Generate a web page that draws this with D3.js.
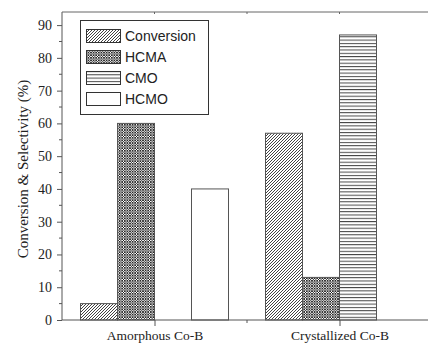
<!DOCTYPE html>
<html>
<head>
<meta charset="utf-8">
<script src="https://cdn.jsdelivr.net/npm/d3@7"></script>
<style>
  body { margin: 0; background: #fff; }
  svg { display: block; }
</style>
</head>
<body>
<div class="chart"></div>
<script>
var svgWidth = 428;
var svgHeight = 344;

// data
var categories = ["Amorphous Co-B", "Crystallized Co-B"];
var seriesNames = ["Conversion", "HCMA", "CMO", "HCMO"];
var conversion = [5, 57];
var hcma = [60, 13];
var cmo = [0, 87];
var hcmo = [40, 0];
var yTicks = [0, 10, 20, 30, 40, 50, 60, 70, 80, 90];

var seriesValues = [conversion, hcma, cmo, hcmo];

var svg = d3.select(".chart")
  .append("svg")
  .attr("width", svgWidth)
  .attr("height", svgHeight);

var defs = svg.append("defs");

// diagonal hatch
var p1 = defs.append("pattern")
  .attr("id", "diag")
  .attr("patternUnits", "userSpaceOnUse")
  .attr("width", 3).attr("height", 3);
p1.append("rect").attr("width", 3).attr("height", 3).attr("fill", "#fff");
p1.append("path")
  .attr("d", "M-1,1 l2,-2 M0,3 l3,-3 M2,4 l2,-2")
  .attr("stroke", "#111").attr("stroke-width", 0.8);

// cross hatch
var p2 = defs.append("pattern")
  .attr("id", "cross")
  .attr("patternUnits", "userSpaceOnUse")
  .attr("width", 2.6).attr("height", 2.6);
p2.append("rect").attr("width", 2.6).attr("height", 2.6).attr("fill", "#fff");
p2.append("path")
  .attr("d", "M-1,1 l2,-2 M0,2.6 l2.6,-2.6 M1.6,3.6 l2,-2 M-1,1.6 l2,2 M0,0 l2.6,2.6 M1.6,-1 l2,2")
  .attr("stroke", "#111").attr("stroke-width", 0.8);

// horizontal lines
var p3 = defs.append("pattern")
  .attr("id", "horiz")
  .attr("patternUnits", "userSpaceOnUse")
  .attr("width", 4).attr("height", 3.3);
p3.append("rect").attr("width", 4).attr("height", 3.3).attr("fill", "#fff");
p3.append("line")
  .attr("x1", 0).attr("x2", 4).attr("y1", 0.5).attr("y2", 0.5)
  .attr("stroke", "#444").attr("stroke-width", 1);

var fills = ["url(#diag)", "url(#cross)", "url(#horiz)", "#fff"];

var x = d3.scaleLinear().domain([0.5, 2.5]).range([62, 432]);
var y = d3.scaleLinear().domain([0, 94]).range([320, 12]);
var barW = 0.2;

// bars
var bars = [];
seriesValues.forEach(function(vals, si) {
  vals.forEach(function(v, ci) {
    if (v > 0) bars.push({ s: si, c: ci, v: v });
  });
});

svg.append("g").selectAll("rect")
  .data(bars)
  .enter()
  .append("rect")
  .attr("x", d => x(d.c + 1 - 2 * barW + d.s * barW))
  .attr("width", d => x(barW) - x(0))
  .attr("y", d => y(d.v))
  .attr("height", d => y(0) - y(d.v))
  .attr("fill", d => fills[d.s])
  .attr("stroke", "#555")
  .attr("stroke-width", 1);

// left axis
var leftAxis = d3.axisLeft(y).tickValues(yTicks).tickSize(5).tickPadding(5);
var yAxis = svg.append("g")
  .attr("transform", "translate(62,0)")
  .call(leftAxis);
yAxis.select(".domain").attr("d", "M0," + y(0) + "V12").attr("stroke", "#555");
yAxis.selectAll(".tick line").attr("stroke", "#555");
yAxis.selectAll("text")
  .attr("font-family", "Liberation Serif, Times New Roman, serif")
  .attr("font-size", 14)
  .attr("fill", "#222");

// minor y ticks
svg.append("g").selectAll("line")
  .data(d3.range(5, 94, 10))
  .enter()
  .append("line")
  .attr("x1", 59).attr("x2", 62)
  .attr("y1", d => y(d)).attr("y2", d => y(d))
  .attr("stroke", "#555");

// bottom axis
var bottomAxis = d3.axisBottom(x).tickValues([1, 2]).tickSize(6)
  .tickFormat((d, i) => categories[i]).tickPadding(4);
var xAxis = svg.append("g")
  .attr("transform", "translate(0," + y(0) + ")")
  .call(bottomAxis);
xAxis.select(".domain").attr("d", "M62,0H432").attr("stroke", "#555");
xAxis.selectAll(".tick line").attr("stroke", "#555");
xAxis.selectAll("text")
  .attr("font-family", "Liberation Serif, Times New Roman, serif")
  .attr("font-size", 13.5)
  .attr("fill", "#222");
svg.append("line")
  .attr("x1", x(1.5)).attr("x2", x(1.5))
  .attr("y1", y(0)).attr("y2", y(0) + 3)
  .attr("stroke", "#555");

// top frame line with small inner ticks
svg.append("line")
  .attr("x1", 62).attr("x2", 432)
  .attr("y1", 12).attr("y2", 12)
  .attr("stroke", "#666");
svg.append("g").selectAll("line")
  .data([1, 1.5, 2])
  .enter()
  .append("line")
  .attr("x1", d => x(d)).attr("x2", d => x(d))
  .attr("y1", 12).attr("y2", 14)
  .attr("stroke", "#666");

// y title
svg.append("text")
  .attr("transform", "translate(28," + 169 + ") rotate(-90)")
  .attr("text-anchor", "middle")
  .attr("font-family", "Liberation Serif, Times New Roman, serif")
  .attr("font-size", 15)
  .attr("fill", "#222")
  .text("Conversion & Selectivity (%)");

// legend
var legend = svg.append("g");
legend.append("rect")
  .attr("x", 80.5).attr("y", 20.5)
  .attr("width", 128).attr("height", 94)
  .attr("fill", "#fff")
  .attr("stroke", "#333");

var rows = legend.selectAll("g.row")
  .data(seriesNames)
  .enter()
  .append("g")
  .attr("class", "row")
  .attr("transform", (d, i) => "translate(0," + (29 + i * 21) + ")");
rows.append("rect")
  .attr("x", 86.5).attr("y", 0.5)
  .attr("width", 34).attr("height", 13)
  .attr("fill", (d, i) => fills[i])
  .attr("stroke", "#333");
rows.append("text")
  .attr("x", 125).attr("y", 12)
  .attr("font-family", "Liberation Sans, Arial, sans-serif")
  .attr("font-size", 14)
  .attr("fill", "#222")
  .text(d => d);
</script>
</body>
</html>
